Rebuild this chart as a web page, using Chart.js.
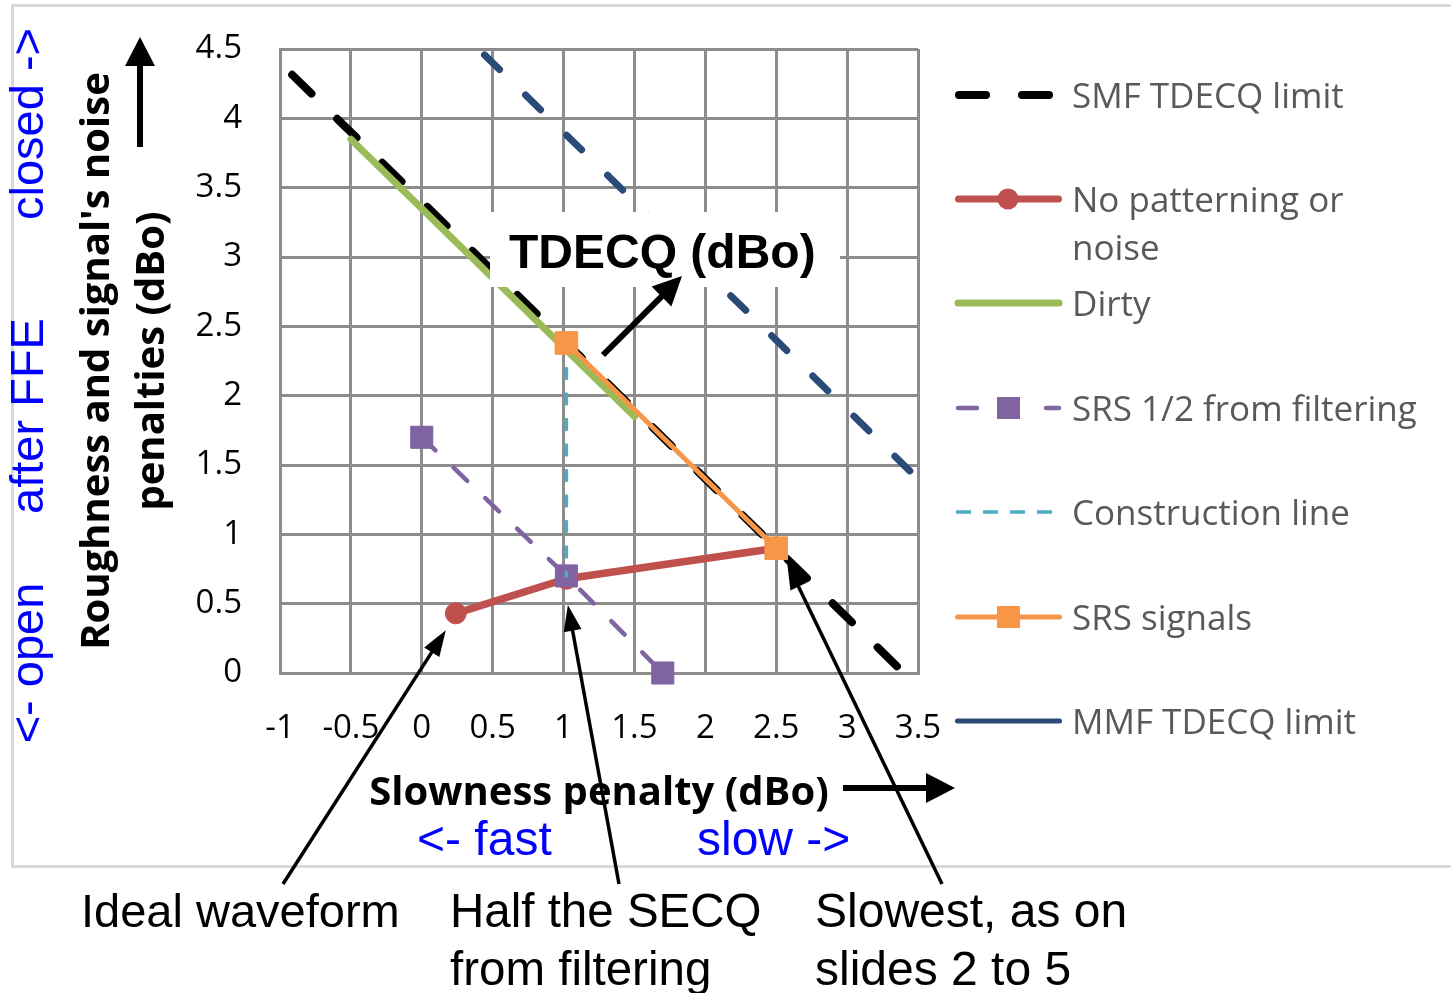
<!DOCTYPE html>
<html>
<head>
<meta charset="utf-8">
<title>TDECQ penalty diagram</title>
<style>
  html, body { margin: 0; padding: 0; background: #ffffff; }
  #wrap { position: relative; width: 1451px; height: 993px; overflow: hidden; background: #ffffff; }
  #frame { position: absolute; left: 11px; top: 4px; width: 1470px; height: 864px; border: 3px solid #d9d9d9; box-sizing: border-box; }
  #c { position: absolute; left: 0; top: 0; width: 1451px; height: 993px; }
</style>
<script src="https://cdn.jsdelivr.net/npm/chart.js@4.4.1/dist/chart.umd.min.js"></script>
</head>
<body>
<div id="wrap">
  <div id="frame"></div>
  <canvas id="c" width="1451" height="993"></canvas>
</div>
<script>
// ---- series values (x = slowness penalty, y = roughness/noise penalty, both dBo) ----
const smfLimitX   = [-1, 3.4];
const smfLimitY   = [4.4, 0];
const noPatternX  = [0.24, 1.02, 2.5];
const noPatternY  = [0.43, 0.68, 0.9];
const dirtyX      = [-0.5, 1.5];
const dirtyY      = [3.85, 1.85];
const srsHalfX    = [0, 1.02, 1.7];
const srsHalfY    = [1.7, 0.7, 0];
const constructX  = [1.02, 1.02];
const constructY  = [2.38, 0.7];
const srsSignalX  = [1.02, 2.5];
const srsSignalY  = [2.38, 0.9];
const mmfLimitX   = [0.4, 3.5];
const mmfLimitY   = [4.5, 1.4];

const seriesNames = [
  'SMF TDECQ limit',
  'No patterning or noise',
  'Dirty',
  'SRS 1/2 from filtering',
  'Construction line',
  'SRS signals',
  'MMF TDECQ limit'
];

// ---- axis ticks ----
const xTickValues = [-1, -0.5, 0, 0.5, 1, 1.5, 2, 2.5, 3, 3.5];
const xTickLabels = ['-1', '-0.5', '0', '0.5', '1', '1.5', '2', '2.5', '3', '3.5'];
const yTickValues = [0, 0.5, 1, 1.5, 2, 2.5, 3, 3.5, 4, 4.5];
const yTickLabels = ['0', '0.5', '1', '1.5', '2', '2.5', '3', '3.5', '4', '4.5'];

const pts = (xs, ys) => xs.map((x, i) => ({ x: x, y: ys[i] }));

const COLORS = {
  smf: '#000000',
  red: '#C0504D',
  green: '#9BBB59',
  purple: '#8064A2',
  teal: '#4BACC6',
  orange: '#F79646',
  mmf: '#2A4A78'
};

const datasets = [
  { label: seriesNames[0], data: pts(smfLimitX, smfLimitY), borderColor: COLORS.smf,
    borderWidth: 8, borderDash: [27, 36], borderDashOffset: 46, borderCapStyle: 'round', pointRadius: 0 },
  { label: seriesNames[1], data: pts(noPatternX, noPatternY), borderColor: COLORS.red,
    borderWidth: 7.5, borderCapStyle: 'round', borderJoinStyle: 'round',
    pointStyle: 'circle', pointRadius: 10.5, pointBackgroundColor: COLORS.red, pointBorderColor: COLORS.red, pointBorderWidth: 1 },
  { label: seriesNames[2], data: pts(dirtyX, dirtyY), borderColor: COLORS.green,
    borderWidth: 7, borderCapStyle: 'round', pointRadius: 0 },
  { label: seriesNames[3], data: pts(srsHalfX, srsHalfY), borderColor: COLORS.purple,
    borderWidth: 4.5, borderDash: [19, 25], borderDashOffset: 0, borderCapStyle: 'round',
    pointStyle: 'rect', pointRadius: 15.6, pointBackgroundColor: COLORS.purple, pointBorderColor: COLORS.purple, pointBorderWidth: 1 },
  { label: seriesNames[4], data: pts(constructX, constructY), borderColor: COLORS.teal,
    borderWidth: 3.5, borderDash: [10, 15.5], borderDashOffset: 0, borderCapStyle: 'round', pointRadius: 0 },
  { label: seriesNames[5], data: pts(srsSignalX, srsSignalY), borderColor: COLORS.orange,
    borderWidth: 5, borderCapStyle: 'round',
    pointStyle: 'rect', pointRadius: 16, pointBackgroundColor: COLORS.orange, pointBorderColor: COLORS.orange, pointBorderWidth: 1 },
  { label: seriesNames[6], data: pts(mmfLimitX, mmfLimitY), borderColor: COLORS.mmf,
    borderWidth: 7, borderDash: [21, 36.4], borderDashOffset: 49, borderCapStyle: 'round', pointRadius: 0 }
];
// later series sit on top of earlier ones
datasets.forEach((d, i) => {
  d.order = datasets.length - i;
  d.showLine = true;
  d.fill = false;
  d.clip = false;
  d.tension = 0;
});

// ---- helpers for annotation drawing ----
function arrow(ctx, x1, y1, x2, y2, w, headLen, headHalf) {
  const a = Math.atan2(y2 - y1, x2 - x1);
  const bx = x2 - headLen * Math.cos(a), by = y2 - headLen * Math.sin(a);
  ctx.save();
  ctx.strokeStyle = '#000'; ctx.fillStyle = '#000';
  ctx.lineWidth = w; ctx.lineCap = 'butt';
  ctx.beginPath(); ctx.moveTo(x1, y1); ctx.lineTo(bx + Math.cos(a), by + Math.sin(a)); ctx.stroke();
  ctx.beginPath();
  ctx.moveTo(x2, y2);
  ctx.lineTo(bx + headHalf * Math.sin(a), by - headHalf * Math.cos(a));
  ctx.lineTo(bx - headHalf * Math.sin(a), by + headHalf * Math.cos(a));
  ctx.closePath(); ctx.fill();
  ctx.restore();
}

function vText(ctx, text, xBase, yCenter, font, color) {
  ctx.save();
  ctx.translate(xBase, yCenter);
  ctx.rotate(-Math.PI / 2);
  ctx.font = font; ctx.fillStyle = color;
  ctx.textAlign = 'center'; ctx.textBaseline = 'alphabetic';
  ctx.fillText(text, 0, 0);
  ctx.restore();
}

function hText(ctx, text, x, y, font, color, align) {
  ctx.save();
  ctx.font = font; ctx.fillStyle = color;
  ctx.textAlign = align || 'left'; ctx.textBaseline = 'alphabetic';
  ctx.fillText(text, x, y);
  ctx.restore();
}

const ARIAL = '"Liberation Sans", Arial, sans-serif';
const BODY = '"Open Sans", sans-serif';

const annotations = {
  id: 'annotations',
  afterDraw(chart) {
    const ctx = chart.ctx;
    const xs = chart.scales.x, ys = chart.scales.y;
    const px = (x) => xs.getPixelForValue(x);
    const py = (y) => ys.getPixelForValue(y);

    // label box for the TDECQ contours
    ctx.save();
    ctx.fillStyle = '#ffffff';
    ctx.fillRect(490, 212, 350, 75);
    ctx.restore();
    hText(ctx, 'TDECQ (dBo)', 509, 268, 'bold 48px ' + ARIAL, '#000');
    arrow(ctx, 603, 355, 682, 276, 6, 29, 14);

    // axis titles
    vText(ctx, "Roughness and signal's noise", 109, 361, 'bold 40px ' + BODY, '#000');
    vText(ctx, 'penalties (dBo)', 164, 361, 'bold 40px ' + BODY, '#000');
    arrow(ctx, 140, 147, 140, 37, 6, 29, 15);
    hText(ctx, 'Slowness penalty (dBo)', 599, 805, 'bold 40px ' + BODY, '#000', 'center');
    arrow(ctx, 843, 788, 955, 788, 6, 29, 15);

    // direction hints
    const blue = '#0000FF';
    const fb = '47px ' + ARIAL;
    vText(ctx, 'closed ->', 43, 124, fb, blue);
    vText(ctx, 'after FFE', 43, 416, fb, blue);
    vText(ctx, '<- open', 43, 663, fb, blue);
    hText(ctx, '<- fast', 417, 855, '48px ' + ARIAL, blue);
    hText(ctx, 'slow ->', 697, 855, '48px ' + ARIAL, blue);

    // callouts
    const f47 = '47.5px ' + ARIAL;
    hText(ctx, 'Ideal waveform', 81, 927, '47px ' + ARIAL, '#000');
    hText(ctx, 'Half the SECQ', 450, 927, f47, '#000');
    hText(ctx, 'from filtering', 450, 985, f47, '#000');
    hText(ctx, 'Slowest, as on', 815, 927, '48px ' + ARIAL, '#000');
    hText(ctx, 'slides 2 to 5', 815, 985, '48px ' + ARIAL, '#000');
    arrow(ctx, 283, 884, px(noPatternX[0]) - 10, py(noPatternY[0]) + 17, 3.5, 26, 9);
    arrow(ctx, 619, 884, px(srsHalfX[1]) + 1.5, py(srsHalfY[1]) + 29, 3.5, 26, 9);
    arrow(ctx, 942, 884, px(srsSignalX[1]) + 11, py(srsSignalY[1]) + 15, 3.5, 26, 9);

    // legend
    const L0 = 955, L1 = 1062, TX = 1072;
    const lf = '35px ' + BODY, lc = '#595959';
    ctx.save();
    ctx.lineCap = 'round';
    // SMF
    ctx.strokeStyle = COLORS.smf; ctx.lineWidth = 8;
    ctx.beginPath(); ctx.moveTo(959, 95); ctx.lineTo(986, 95); ctx.moveTo(1022, 95); ctx.lineTo(1049, 95); ctx.stroke();
    // no patterning
    ctx.strokeStyle = COLORS.red; ctx.lineWidth = 7;
    ctx.beginPath(); ctx.moveTo(L0 + 3.5, 199); ctx.lineTo(L1 - 3.5, 199); ctx.stroke();
    ctx.fillStyle = COLORS.red; ctx.beginPath(); ctx.arc(1008, 199, 10.5, 0, Math.PI * 2); ctx.fill();
    // dirty
    ctx.strokeStyle = COLORS.green; ctx.lineWidth = 7;
    ctx.beginPath(); ctx.moveTo(L0 + 3, 303); ctx.lineTo(L1 - 3, 303); ctx.stroke();
    // SRS 1/2
    ctx.strokeStyle = COLORS.purple; ctx.lineWidth = 4.5;
    ctx.beginPath(); ctx.moveTo(958, 408); ctx.lineTo(977, 408); ctx.moveTo(1046, 408); ctx.lineTo(1059, 408); ctx.stroke();
    ctx.fillStyle = COLORS.purple; ctx.fillRect(997, 397, 23, 22);
    // construction
    ctx.strokeStyle = COLORS.teal; ctx.lineWidth = 3.5; ctx.lineCap = 'butt';
    ctx.beginPath();
    [956, 983, 1010, 1037].forEach(s => { ctx.moveTo(s, 512); ctx.lineTo(s + 15, 512); });
    ctx.stroke();
    ctx.lineCap = 'round';
    // SRS signals
    ctx.strokeStyle = COLORS.orange; ctx.lineWidth = 5;
    ctx.beginPath(); ctx.moveTo(L0 + 2.5, 617); ctx.lineTo(L1 - 2.5, 617); ctx.stroke();
    ctx.fillStyle = COLORS.orange; ctx.fillRect(997, 606, 23, 22);
    // MMF
    ctx.strokeStyle = COLORS.mmf; ctx.lineWidth = 5;
    ctx.beginPath(); ctx.moveTo(L0 + 2.5, 721); ctx.lineTo(L1 - 2.5, 721); ctx.stroke();
    ctx.restore();

    hText(ctx, seriesNames[0], TX, 107.5, lf, lc);
    hText(ctx, 'No patterning or', TX, 211.5, lf, lc);
    hText(ctx, 'noise', TX, 259.5, lf, lc);
    hText(ctx, seriesNames[2], TX, 315.5, lf, lc);
    hText(ctx, seriesNames[3], TX, 420.5, lf, lc);
    hText(ctx, seriesNames[4], TX, 524.5, lf, lc);
    hText(ctx, seriesNames[5], TX, 629.5, lf, lc);
    hText(ctx, seriesNames[6], TX, 733.5, lf, lc);
  }
};

// invisible tick marks give the label gap without growing the vertical layout padding
const gridStyle = { color: '#8c8c8c', lineWidth: 3, drawTicks: true, tickLength: 28, tickColor: 'rgba(0,0,0,0)' };
const borderStyle = { display: true, color: '#8c8c8c', width: 3 };

new Chart(document.getElementById('c'), {
  type: 'scatter',
  data: { datasets: datasets },
  options: {
    responsive: false,
    animation: false,
    devicePixelRatio: 1,
    layout: { padding: { top: 49, right: 533, bottom: 0, left: 0 } },
    plugins: { legend: { display: false }, tooltip: { enabled: false } },
    scales: {
      x: {
        type: 'linear', min: -1, max: 3.5,
        afterBuildTicks: (s) => { s.ticks = xTickValues.map(v => ({ value: v })); },
        afterFit: (s) => { s.height = 320; },
        grid: gridStyle, border: borderStyle,
        ticks: {
          padding: 8, color: '#000', maxRotation: 0, autoSkip: false,
          font: { family: 'Open Sans', size: 33 },
          callback: (v) => { const i = xTickValues.indexOf(v); return i >= 0 ? xTickLabels[i] : ''; }
        }
      },
      y: {
        type: 'linear', min: 0, max: 4.5,
        afterBuildTicks: (s) => { s.ticks = yTickValues.map(v => ({ value: v })); },
        afterFit: (s) => { s.width = 280; },
        grid: gridStyle, border: borderStyle,
        ticks: {
          padding: 10, color: '#000', autoSkip: false,
          font: { family: 'Open Sans', size: 33 },
          callback: (v) => { const i = yTickValues.indexOf(v); return i >= 0 ? yTickLabels[i] : ''; }
        }
      }
    }
  },
  plugins: [annotations]
});
</script>
</body>
</html>
